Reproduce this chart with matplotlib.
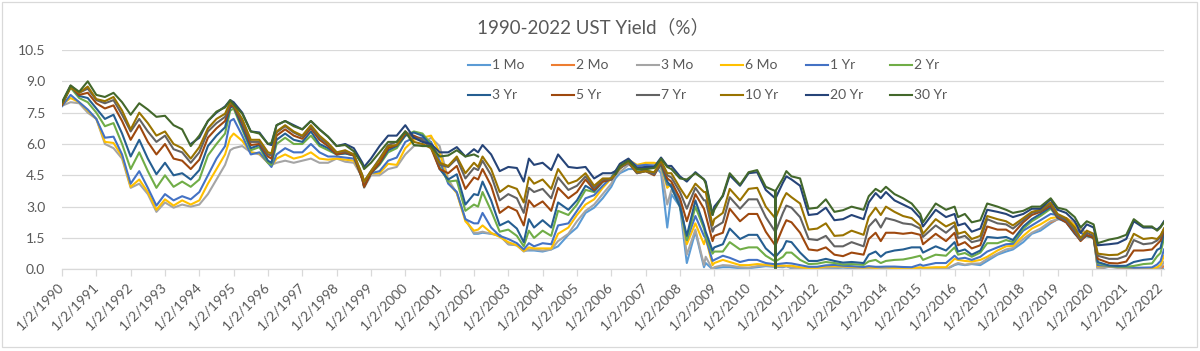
import matplotlib
matplotlib.use("Agg")
import matplotlib.pyplot as plt
from matplotlib.lines import Line2D
from matplotlib.patches import Rectangle

nan = float("nan")

# decimal-year positions of the sampled observations
dates = [
    1990.00, 1990.25, 1990.50, 1990.75,
    1991.00, 1991.25, 1991.50, 1991.75,
    1992.00, 1992.25, 1992.50, 1992.75,
    1993.00, 1993.25, 1993.50, 1993.75,
    1994.00, 1994.25, 1994.50, 1994.75, 1994.90,
    1995.00, 1995.25, 1995.50, 1995.75,
    1996.00, 1996.10, 1996.25, 1996.50, 1996.75,
    1997.00, 1997.25, 1997.50, 1997.75,
    1998.00, 1998.25, 1998.50, 1998.75, 1998.80,
    1999.00, 1999.25, 1999.50, 1999.75,
    2000.00, 2000.25, 2000.50, 2000.75,
    2001.00, 2001.25, 2001.50, 2001.75,
    2002.00, 2002.12, 2002.25, 2002.50, 2002.75,
    2003.00, 2003.25, 2003.45, 2003.60, 2003.75,
    2004.00, 2004.25, 2004.45, 2004.75,
    2005.00, 2005.25, 2005.50, 2005.75,
    2006.00, 2006.12, 2006.25, 2006.50, 2006.75,
    2007.00, 2007.25, 2007.45, 2007.63, 2007.75,
    2008.00, 2008.20, 2008.45, 2008.70, 2008.75, 2008.95,
    2009.00, 2009.25, 2009.45, 2009.75,
    2010.00, 2010.25, 2010.50, 2010.775, 2010.78, 2010.785,
    2011.00, 2011.10, 2011.25, 2011.50, 2011.75,
    2012.00, 2012.25, 2012.50, 2012.75,
    2013.00, 2013.35, 2013.50, 2013.70, 2013.85,
    2014.00, 2014.25, 2014.50, 2014.75,
    2015.00, 2015.08, 2015.45, 2015.75,
    2016.00, 2016.10, 2016.30, 2016.50, 2016.75, 2016.95,
    2017.25, 2017.50, 2017.70,
    2018.00, 2018.25, 2018.50, 2018.80,
    2019.00, 2019.25, 2019.50, 2019.67, 2019.85,
    2020.05, 2020.17, 2020.50, 2020.75,
    2021.00, 2021.22, 2021.50, 2021.75, 2021.90,
    2022.00, 2022.10,
]

# 1 Mo starts at the 2001.75 observation
mo1 = [
    2.4, 1.7, 1.7, 1.75, 1.7, 1.65,
    1.2, 1.15, 0.9, 0.9, 0.9,
    0.85, 0.95, 1.1, 1.65,
    2.0, 2.7, 2.95, 3.4,
    3.95, 4.35, 4.6, 4.8, 4.8,
    4.9, 5.0, 4.6, 2.0, 3.6,
    3.0, 0.3, 1.8, 0.1, 0.3, 0.0,
    0.05, 0.1, 0.1, 0.05,
    0.05, 0.1, 0.15, 0.12, 0.0, 0.12,
    0.1, 0.15, 0.05, 0.02, 0.01,
    0.01, 0.05, 0.05, 0.08,
    0.05, 0.03, 0.03, 0.03, 0.05,
    0.02, 0.05, 0.02, 0.02,
    0.02, 0.02, 0.02, 0.0,
    0.2, 0.25, 0.2, 0.25, 0.2, 0.4,
    0.7, 0.85, 0.95,
    1.3, 1.7, 1.85, 2.2,
    2.4, 2.4, 2.2, 2.05, 1.6,
    1.55, 0.0, 0.12, 0.08,
    0.08, 0.02, 0.05, 0.05, 0.05,
    0.05, 0.04,
]

# 2 Mo starts at the 2018.80 observation
mo2 = [
    2.25,
    2.4, 2.45, 2.2, 2.0, 1.6,
    1.55, 0.05, 0.13, 0.09,
    0.08, 0.02, 0.05, 0.05, 0.05,
    0.05, 0.15,
]

mo3 = [
    7.83, 8.0, 7.95, 7.5,
    7.2, 6.0, 5.8, 5.3,
    3.9, 4.1, 3.6, 2.75,
    3.2, 2.95, 3.1, 3.0,
    3.1, 3.6, 4.3, 5.0, 5.7,
    5.8, 5.9, 5.6, 5.5,
    5.1, 5.0, 5.1, 5.2, 5.1,
    5.2, 5.3, 5.1, 5.1,
    5.3, 5.15, 5.1, 4.4, 3.9,
    4.5, 4.5, 4.8, 4.9,
    5.5, 5.9, 6.0, 6.3,
    5.9, 4.3, 3.65, 2.4,
    1.75, 1.75, 1.8, 1.7, 1.6,
    1.2, 1.15, 0.85, 0.95, 0.95,
    0.9, 0.95, 1.35, 1.7,
    2.3, 2.8, 3.1, 3.6,
    4.1, 4.5, 4.65, 5.0, 4.9,
    5.05, 5.05, 4.8, 3.1, 3.8,
    3.3, 0.7, 1.9, 0.2, 0.6, 0.0,
    0.1, 0.2, 0.18, 0.1,
    0.08, 0.15, 0.18, 0.14, 0.0, 0.14,
    0.13, 0.15, 0.08, 0.03, 0.02,
    0.02, 0.07, 0.09, 0.1,
    0.08, 0.05, 0.04, 0.03, 0.05,
    0.07, 0.03, 0.03, 0.02,
    0.03, 0.02, 0.02, 0.0,
    0.23, 0.3, 0.22, 0.27, 0.28, 0.5,
    0.75, 0.95, 1.02,
    1.45, 1.75, 1.95, 2.3,
    2.4, 2.4, 2.2, 1.95, 1.6,
    1.55, 0.05, 0.13, 0.1,
    0.09, 0.02, 0.05, 0.04, 0.05,
    0.08, 0.35,
]

mo6 = [
    7.89, 8.2, 8.0, 7.6,
    7.2, 6.1, 6.05, 5.4,
    3.95, 4.3, 3.7, 2.85,
    3.35, 3.05, 3.3, 3.1,
    3.3, 4.1, 4.8, 5.5, 6.3,
    6.5, 6.15, 5.6, 5.55,
    5.1, 4.95, 5.3, 5.5, 5.3,
    5.4, 5.6, 5.3, 5.25,
    5.3, 5.25, 5.2, 4.45, 4.1,
    4.6, 4.6, 5.05, 5.0,
    5.8, 6.2, 6.3, 6.4,
    5.6, 4.15, 3.65, 2.3,
    1.85, 1.9, 2.1, 1.75, 1.55,
    1.3, 1.15, 0.88, 1.05, 1.0,
    1.0, 1.0, 1.7, 2.0,
    2.6, 3.1, 3.35, 3.9,
    4.35, 4.65, 4.8, 5.25, 5.0,
    5.1, 5.1, 5.0, 3.9, 4.1,
    3.3, 1.2, 2.2, 1.2, 1.5, 0.2,
    0.3, 0.45, 0.35, 0.2,
    0.2, 0.25, 0.22, 0.17, 0.0, 0.17,
    0.18, 0.17, 0.17, 0.1, 0.05,
    0.06, 0.14, 0.15, 0.14,
    0.12, 0.08, 0.1, 0.06, 0.1,
    0.1, 0.05, 0.06, 0.04,
    0.1, 0.07, 0.1, 0.1,
    0.5, 0.45, 0.4, 0.37, 0.45, 0.6,
    0.9, 1.1, 1.12,
    1.6, 1.95, 2.15, 2.45,
    2.5, 2.45, 2.1, 1.85, 1.6,
    1.55, 0.15, 0.16, 0.11,
    0.1, 0.05, 0.06, 0.06, 0.1,
    0.22, 0.65,
]

yr1 = [
    7.81, 8.35, 8.0, 7.65,
    7.2, 6.3, 6.35, 5.5,
    4.1, 4.7, 3.9, 3.05,
    3.6, 3.3, 3.5, 3.35,
    3.7, 4.5, 5.3, 5.9, 7.1,
    7.2, 6.4, 5.5, 5.6,
    5.1, 4.9, 5.5, 5.8, 5.6,
    5.6, 6.0, 5.6, 5.4,
    5.4, 5.35, 5.3, 4.4, 4.0,
    4.6, 4.7, 5.2, 5.35,
    6.1, 6.3, 6.3, 6.1,
    5.2, 4.1, 3.7, 2.4,
    2.2, 2.2, 2.7, 2.0, 1.6,
    1.45, 1.25, 0.95, 1.25, 1.1,
    1.25, 1.2, 2.1, 2.2,
    2.8, 3.4, 3.55, 4.0,
    4.4, 4.7, 4.85, 5.25, 4.95,
    5.0, 4.95, 5.0, 4.05, 4.05,
    3.2, 1.4, 2.55, 1.6, 1.5, 0.4,
    0.45, 0.65, 0.55, 0.35,
    0.45, 0.45, 0.3, 0.24, 0.0, 0.24,
    0.28, 0.3, 0.28, 0.2, 0.12,
    0.12, 0.19, 0.21, 0.17,
    0.15, 0.11, 0.15, 0.12, 0.12,
    0.13, 0.13, 0.11, 0.1,
    0.23, 0.17, 0.3, 0.3,
    0.65, 0.5, 0.55, 0.45, 0.6, 0.85,
    1.05, 1.2, 1.22,
    1.85, 2.1, 2.35, 2.65,
    2.6, 2.4, 1.95, 1.75, 1.58,
    1.55, 0.2, 0.16, 0.12,
    0.1, 0.07, 0.08, 0.09, 0.23,
    0.4, 0.95,
]

yr2 = [
    7.87, 8.7, 8.2, 8.0,
    7.5, 6.85, 7.0, 6.0,
    4.8, 5.6, 4.7, 3.9,
    4.5, 3.95, 4.2, 3.95,
    4.3, 5.45, 6.0, 6.5, 7.6,
    7.7, 6.7, 5.7, 5.85,
    5.1, 5.0, 6.0, 6.3, 6.0,
    6.0, 6.4, 5.9, 5.7,
    5.5, 5.55, 5.45, 4.3, 3.95,
    4.6, 5.0, 5.6, 5.8,
    6.4, 6.6, 6.5, 6.0,
    4.9, 4.2, 4.25, 2.8,
    3.1, 3.0, 3.7, 2.8, 1.8,
    1.9, 1.6, 1.1, 1.85, 1.5,
    1.85, 1.6, 2.8, 2.6,
    3.1, 3.8, 3.7, 4.2,
    4.35, 4.7, 4.85, 5.2, 4.75,
    4.8, 4.6, 5.0, 4.15, 3.95,
    3.0, 1.4, 3.0, 1.95, 1.6, 0.75,
    0.85, 0.85, 1.3, 0.95,
    1.05, 1.05, 0.65, 0.38, 0.0, 0.38,
    0.6, 0.8, 0.8, 0.45, 0.25,
    0.27, 0.35, 0.3, 0.23,
    0.25, 0.21, 0.38, 0.45, 0.3,
    0.4, 0.45, 0.47, 0.55,
    0.65, 0.45, 0.7, 0.65,
    1.05, 0.7, 0.78, 0.6, 0.8, 1.25,
    1.25, 1.4, 1.3,
    1.95, 2.3, 2.55, 2.9,
    2.5, 2.3, 1.75, 1.5, 1.6,
    1.5, 0.3, 0.16, 0.13,
    0.12, 0.16, 0.25, 0.28, 0.62,
    0.78, 1.5,
]

yr3 = [
    7.90, 8.75, 8.3, 8.2,
    7.7, 7.2, 7.4, 6.5,
    5.4, 6.2, 5.3, 4.55,
    5.1, 4.5, 4.6, 4.3,
    4.75, 5.9, 6.4, 6.8, 7.75,
    7.8, 6.8, 5.8, 5.95,
    5.2, 5.1, 6.2, 6.5, 6.2,
    6.1, 6.6, 6.0, 5.8,
    5.5, 5.55, 5.45, 4.3, 3.95,
    4.6, 5.05, 5.7, 5.9,
    6.4, 6.55, 6.4, 5.9,
    4.8, 4.3, 4.55, 3.1,
    3.6, 3.55, 4.2, 3.3, 2.1,
    2.3, 1.95, 1.3, 2.4, 2.0,
    2.35, 2.0, 3.2, 2.85,
    3.3, 4.0, 3.75, 4.2,
    4.3, 4.65, 4.85, 5.15, 4.65,
    4.75, 4.55, 5.05, 4.2, 3.95,
    3.0, 1.6, 3.3, 2.1, 1.8, 0.9,
    1.05, 1.2, 1.95, 1.45,
    1.65, 1.65, 1.0, 0.6, 0.0, 0.6,
    1.0, 1.35, 1.3, 0.8, 0.4,
    0.4, 0.5, 0.4, 0.32,
    0.35, 0.3, 0.7, 0.85, 0.6,
    0.8, 0.9, 0.95, 1.05,
    1.05, 0.8, 1.1, 0.9,
    1.3, 0.85, 0.95, 0.7, 0.9, 1.55,
    1.5, 1.55, 1.4,
    2.05, 2.4, 2.65, 2.98,
    2.45, 2.25, 1.7, 1.4, 1.62,
    1.5, 0.35, 0.18, 0.16,
    0.17, 0.35, 0.45, 0.5, 0.93,
    1.02, 1.75,
]

yr5 = [
    7.87, 8.75, 8.35, 8.45,
    7.95, 7.7, 7.85, 7.1,
    6.2, 6.9, 6.1, 5.5,
    6.0, 5.3, 5.2, 4.8,
    5.25, 6.3, 6.75, 7.1, 7.85,
    7.8, 7.0, 5.95, 6.0,
    5.4, 5.3, 6.4, 6.7, 6.4,
    6.25, 6.75, 6.2, 5.9,
    5.5, 5.6, 5.45, 4.3, 3.95,
    4.6, 5.1, 5.8, 5.95,
    6.5, 6.4, 6.2, 5.8,
    4.8, 4.6, 4.95, 3.85,
    4.4, 4.3, 4.8, 4.0, 2.7,
    3.0, 2.8, 2.1, 3.3, 3.0,
    3.25, 2.8, 3.9, 3.4,
    3.7, 4.3, 3.8, 4.2,
    4.3, 4.55, 4.85, 5.1, 4.6,
    4.7, 4.5, 5.1, 4.35, 4.2,
    3.4, 2.3, 3.6, 2.9, 2.6, 1.35,
    1.6, 1.75, 2.9, 2.3,
    2.65, 2.65, 1.8, 1.15, 0.0, 1.15,
    2.0, 2.35, 2.25, 1.75, 0.95,
    0.9, 1.05, 0.7, 0.63,
    0.8, 0.7, 1.45, 1.75, 1.35,
    1.75, 1.75, 1.7, 1.75,
    1.65, 1.2, 1.7, 1.35,
    1.75, 1.15, 1.3, 1.0, 1.15, 2.05,
    1.9, 1.9, 1.7,
    2.25, 2.6, 2.75, 3.05,
    2.5, 2.25, 1.75, 1.35, 1.65,
    1.5, 0.5, 0.3, 0.28,
    0.37, 0.9, 0.9, 0.95, 1.2,
    1.37, 1.9,
]

yr7 = [
    7.98, 8.8, 8.45, 8.65,
    8.1, 7.95, 8.1, 7.4,
    6.6, 7.2, 6.6, 6.1,
    6.4, 5.75, 5.6, 5.1,
    5.6, 6.6, 7.0, 7.3, 7.95,
    7.85, 7.1, 6.1, 6.1,
    5.5, 5.45, 6.55, 6.85, 6.55,
    6.35, 6.85, 6.3, 6.0,
    5.6, 5.65, 5.5, 4.5, 4.2,
    4.7, 5.3, 5.95, 6.1,
    6.6, 6.3, 6.2, 5.85,
    5.0, 4.9, 5.3, 4.35,
    4.85, 4.75, 5.2, 4.5, 3.3,
    3.6, 3.4, 2.7, 3.9, 3.7,
    3.85, 3.4, 4.4, 3.8,
    4.0, 4.45, 3.9, 4.3,
    4.3, 4.55, 4.85, 5.1, 4.6,
    4.7, 4.55, 5.15, 4.5, 4.4,
    3.7, 2.9, 3.9, 3.3, 3.3, 1.8,
    2.0, 2.25, 3.45, 2.9,
    3.35, 3.35, 2.5, 1.8, 0.0, 1.8,
    2.7, 3.05, 2.95, 2.5, 1.45,
    1.4, 1.6, 1.1, 1.1,
    1.3, 1.1, 2.05, 2.4, 2.0,
    2.45, 2.35, 2.2, 2.15,
    1.95, 1.55, 2.1, 1.75,
    2.1, 1.5, 1.6, 1.3, 1.4, 2.4,
    2.2, 2.15, 1.95,
    2.35, 2.7, 2.8, 3.15,
    2.55, 2.35, 1.85, 1.4, 1.75,
    1.6, 0.65, 0.5, 0.5,
    0.65, 1.4, 1.2, 1.25, 1.38,
    1.55, 1.95,
]

yr10 = [
    7.94, 8.7, 8.45, 8.75,
    8.15, 8.05, 8.25, 7.6,
    6.7, 7.5, 7.0, 6.4,
    6.6, 6.0, 5.8, 5.3,
    5.85, 6.75, 7.2, 7.45, 8.0,
    7.85, 7.2, 6.2, 6.2,
    5.6, 5.55, 6.6, 6.9, 6.6,
    6.4, 6.9, 6.4, 6.05,
    5.6, 5.7, 5.5, 4.5, 4.2,
    4.7, 5.25, 5.9, 5.95,
    6.6, 6.1, 6.0, 5.8,
    5.1, 4.95, 5.4, 4.6,
    5.1, 4.9, 5.4, 4.8, 3.7,
    4.0, 3.85, 3.2, 4.4, 4.1,
    4.3, 3.85, 4.8, 4.1,
    4.25, 4.6, 4.0, 4.35,
    4.35, 4.55, 4.9, 5.15, 4.65,
    4.7, 4.65, 5.2, 4.6, 4.6,
    3.9, 3.4, 4.1, 3.7, 3.7, 2.1,
    2.4, 2.7, 3.85, 3.3,
    3.85, 3.9, 3.0, 2.45, 0.0, 2.45,
    3.35, 3.65, 3.45, 3.15, 1.9,
    1.95, 2.2, 1.6, 1.63,
    1.85, 1.65, 2.5, 2.95, 2.6,
    3.0, 2.75, 2.55, 2.45,
    2.1, 1.7, 2.4, 2.05,
    2.25, 1.7, 1.8, 1.45, 1.6, 2.55,
    2.4, 2.3, 2.1,
    2.45, 2.75, 2.85, 3.2,
    2.65, 2.45, 2.0, 1.5, 1.85,
    1.7, 0.75, 0.68, 0.7,
    0.92, 1.7, 1.45, 1.5, 1.45,
    1.63, 1.95,
]

# 20 Yr starts at the 1993.75 observation
yr20 = [
    6.0,
    6.3, 7.1, 7.5, 7.8, 8.1,
    8.0, 7.5, 6.6, 6.55,
    6.0, 5.95, 6.9, 7.1, 6.9,
    6.7, 7.1, 6.7, 6.35,
    5.9, 6.0, 5.8, 5.1, 4.9,
    5.3, 5.9, 6.4, 6.4,
    6.9, 6.3, 6.1, 6.0,
    5.6, 5.6, 5.85, 5.4,
    5.75, 5.6, 5.95, 5.5, 4.7,
    4.9, 4.85, 4.2, 5.3, 5.0,
    5.1, 4.75, 5.5, 4.9,
    4.85, 4.9, 4.35, 4.6,
    4.6, 4.7, 5.05, 5.3, 4.85,
    4.9, 4.9, 5.35, 4.95, 4.95,
    4.45, 4.2, 4.65, 4.3, 4.2, 2.6,
    3.0, 3.5, 4.5, 4.0,
    4.6, 4.65, 3.8, 3.4, 0.0, 3.4,
    4.15, 4.45, 4.3, 4.0, 2.6,
    2.65, 2.95, 2.35, 2.4,
    2.6, 2.4, 3.2, 3.65, 3.4,
    3.7, 3.3, 3.1, 2.9,
    2.45, 2.05, 2.85, 2.5,
    2.65, 2.1, 2.2, 1.8, 1.95, 2.85,
    2.75, 2.65, 2.5,
    2.65, 2.9, 2.9, 3.35,
    2.85, 2.7, 2.3, 1.75, 2.15,
    2.0, 1.15, 1.2, 1.25,
    1.45, 2.3, 2.0, 2.0, 1.9,
    2.05, 2.3,
]

# 30 Yr was not issued from 2002 to early 2006
yr30 = [
    8.00, 8.8, 8.5, 9.0,
    8.35, 8.25, 8.45, 8.0,
    7.4, 7.95, 7.65, 7.3,
    7.35, 6.9, 6.7, 5.9,
    6.4, 7.1, 7.55, 7.75, 8.1,
    7.9, 7.45, 6.6, 6.5,
    6.0, 6.05, 6.9, 7.1, 6.85,
    6.7, 7.1, 6.7, 6.35,
    5.9, 5.95, 5.65, 5.0, 4.8,
    5.1, 5.6, 6.1, 6.1,
    6.6, 5.95, 5.9, 5.9,
    5.4, 5.45, 5.7, 5.4,
    5.5, 5.4, nan, nan, nan,
    nan, nan, nan, nan, nan,
    nan, nan, nan, nan,
    nan, nan, nan, nan,
    nan, 4.55, 4.95, 5.2, 4.8,
    4.8, 4.85, 5.3, 4.9, 4.8,
    4.35, 4.3, 4.6, 4.3, 4.1, 2.6,
    2.85, 3.55, 4.6, 4.05,
    4.65, 4.75, 3.95, 3.75, 0.0, 3.75,
    4.35, 4.7, 4.45, 4.35, 2.9,
    2.95, 3.35, 2.75, 2.83,
    3.0, 2.85, 3.5, 3.85, 3.7,
    3.95, 3.6, 3.4, 3.15,
    2.65, 2.25, 3.15, 2.85,
    3.0, 2.5, 2.65, 2.25, 2.35, 3.15,
    3.0, 2.85, 2.7,
    2.8, 3.0, 3.0, 3.4,
    2.95, 2.85, 2.5, 2.0, 2.3,
    2.15, 1.25, 1.42, 1.5,
    1.65, 2.4, 2.05, 2.05, 1.85,
    2.01, 2.25,
]

series_names = ["1 Mo", "2 Mo", "3 Mo", "6 Mo", "1 Yr", "2 Yr",
                "3 Yr", "5 Yr", "7 Yr", "10 Yr", "20 Yr", "30 Yr"]
series_values = [mo1, mo2, mo3, mo6, yr1, yr2, yr3, yr5, yr7, yr10, yr20, yr30]
colors = ["#5B9BD5", "#ED7D31", "#A5A5A5", "#FFC000", "#4472C4", "#70AD47",
          "#255E91", "#9E480E", "#636363", "#997300", "#264478", "#43682B"]

y_ticks = [0.0, 1.5, 3.0, 4.5, 6.0, 7.5, 9.0, 10.5]
tick_years = list(range(1990, 2023))
tick_labels = ["1/2/%d" % y for y in tick_years]

TXT = "#595959"
GRID = "#D9D9D9"
FONT = ["Lato", "DejaVu Sans"]
plt.rcParams["font.family"] = FONT

W, H = 1200, 351
fig = plt.figure(figsize=(W / 100, H / 100), dpi=100)
x0, x1, ytop, ybot = 62, 1164, 50, 269.3
ax = fig.add_axes([x0 / W, 1 - ybot / H, (x1 - x0) / W, (ybot - ytop) / H])

for vals, name, col in zip(series_values, series_names, colors):
    d = dates[len(dates) - len(vals):]
    ax.plot(d, vals, color=col, lw=1.5, solid_joinstyle="round", label=name)

ax.set_xlim(1990.0, 2022.1)
ax.set_ylim(0, 10.5)
ax.set_yticks(y_ticks)
ax.set_yticklabels(["%.1f" % v for v in y_ticks])
ax.yaxis.grid(True, color=GRID, lw=0.9)
ax.set_axisbelow(True)
for s in ("left", "right", "top"):
    ax.spines[s].set_visible(False)
ax.spines["bottom"].set_color(GRID)
ax.spines["bottom"].set_linewidth(0.9)
ax.tick_params(axis="y", length=0, pad=12, labelsize=10, labelcolor=TXT)
ax.set_xticks(tick_years)
ax.set_xticklabels(tick_labels, rotation=45, ha="right", va="center",
                   rotation_mode="anchor")
ax.tick_params(axis="x", length=5, color=GRID, width=0.9, labelsize=10,
               labelcolor=TXT, pad=6)

# title
fig.text(593 / W, 1 - 27 / H, "1990-2022 UST Yield（%）", ha="center", va="center",
         fontsize=13.5, color=TXT, family=["Lato", "Noto Sans CJK SC", "DejaVu Sans"])

# legend laid out like the reference (two rows, six equal columns)
for i, (name, col) in enumerate(zip(series_names, colors)):
    c, r = i % 6, i // 6
    lx = 468 + c * 84.4
    ly = 65 + r * 30
    fig.add_artist(Line2D([lx / W, (lx + 22) / W], [1 - ly / H, 1 - ly / H],
                          color=col, lw=1.5, transform=fig.transFigure))
    fig.text((lx + 24) / W, 1 - ly / H, name, ha="left", va="center",
             fontsize=10, color=TXT)

fig.add_artist(Rectangle((2 / W, 4 / H), 1195 / W, 345 / H, fill=False,
                         edgecolor=GRID, lw=0.9, transform=fig.transFigure))

fig.savefig("out.png", dpi=100, facecolor="white")
